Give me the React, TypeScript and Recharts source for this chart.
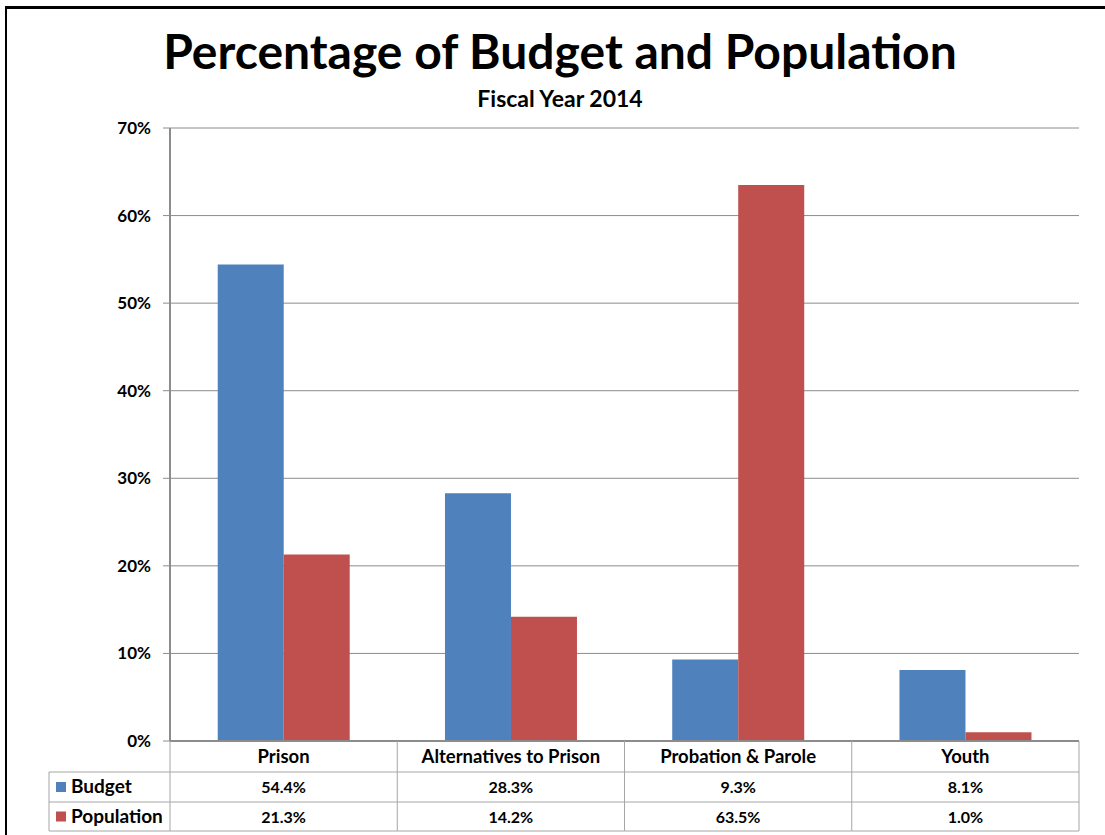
import React from 'react';
import { BarChart, Bar, XAxis, YAxis, CartesianGrid } from 'recharts';

const categories = ['Prison', 'Alternatives to Prison', 'Probation & Parole', 'Youth'];
const budget = [54.4, 28.3, 9.3, 8.1];
const population = [21.3, 14.2, 63.5, 1.0];
const yTicks = [0, 10, 20, 30, 40, 50, 60, 70];
const seriesNames = ['Budget', 'Population'];
const seriesColors = ['#4F81BD', '#C0504D'];

const data = categories.map((c, i) => ({ name: c, budget: budget[i], population: population[i] }));

const W = 1105;
const H = 835;
const PLOT_LEFT = 170;
const PLOT_RIGHT = 1079;
const PLOT_TOP = 128;
const PLOT_BOTTOM = 741;
const ROW1 = 772;
const ROW2 = 802;
const ROW3 = 831;
const LEGEND_LEFT = 49;
const FONT = 'Lato, "Open Sans", sans-serif';
const GRID = '#8c8c8c';
const TABLE = '#a6a6a6';

const seriesVals = [budget, population];

const YTick = (props: any) => {
  const { x, y, payload } = props;
  return (
    <text x={x} y={y + 6} textAnchor="end" fontFamily={FONT} fontWeight="bold" fontSize={17} fill="#000">
      {`${payload.value}%`}
    </text>
  );
};

const TableTick = (props: any) => {
  const { x, payload } = props;
  const idx = payload.index;
  const cellW = (PLOT_RIGHT - PLOT_LEFT) / categories.length;
  const left = x - cellW / 2;
  const right = x + cellW / 2;
  return (
    <g>
      <line x1={right} y1={PLOT_BOTTOM} x2={right} y2={ROW3} stroke={TABLE} strokeWidth={1} />
      <line x1={left} y1={ROW1} x2={right} y2={ROW1} stroke={TABLE} strokeWidth={1} />
      <line x1={left} y1={ROW2} x2={right} y2={ROW2} stroke={TABLE} strokeWidth={1} />
      <line x1={left} y1={ROW3} x2={right} y2={ROW3} stroke={TABLE} strokeWidth={1} />
      <text x={x} y={(PLOT_BOTTOM + ROW1) / 2 + 6} textAnchor="middle" fontFamily={FONT} fontWeight="bold" fontSize={18.5} fill="#000">
        {payload.value}
      </text>
      {seriesVals.map((vals, r) => (
        <text key={r} x={x} y={(r === 0 ? (ROW1 + ROW2) / 2 : (ROW2 + ROW3) / 2) + 6} textAnchor="middle" fontFamily={FONT} fontWeight="bold" fontSize={16} fill="#000">
          {`${vals[idx].toFixed(1)}%`}
        </text>
      ))}
      {idx === 0 && (
        <g>
          <line x1={left} y1={PLOT_BOTTOM} x2={left} y2={ROW3} stroke={TABLE} strokeWidth={1} />
          <line x1={LEGEND_LEFT} y1={ROW1} x2={left} y2={ROW1} stroke={TABLE} strokeWidth={1} />
          <line x1={LEGEND_LEFT} y1={ROW2} x2={left} y2={ROW2} stroke={TABLE} strokeWidth={1} />
          <line x1={LEGEND_LEFT} y1={ROW3} x2={left} y2={ROW3} stroke={TABLE} strokeWidth={1} />
          <line x1={LEGEND_LEFT} y1={ROW1} x2={LEGEND_LEFT} y2={ROW3} stroke={TABLE} strokeWidth={1} />
          {seriesNames.map((n, r) => {
            const cy = r === 0 ? (ROW1 + ROW2) / 2 : (ROW2 + ROW3) / 2;
            return (
              <g key={n}>
                <rect x={LEGEND_LEFT + 7} y={cy - 5} width={10} height={10} fill={seriesColors[r]} />
                <text x={LEGEND_LEFT + 22} y={cy + 6} fontFamily={FONT} fontWeight="bold" fontSize={19} fill="#000">
                  {n}
                </text>
              </g>
            );
          })}
        </g>
      )}
    </g>
  );
};

export default function App() {
  return (
    <div style={{ position: 'absolute', left: 0, top: 0, width: W, height: H, overflow: 'hidden', background: '#fff' }}>
      <div style={{ position: 'absolute', left: 5, top: 6, width: W + 50, height: H + 50, borderTop: '3px solid #000', borderLeft: '2px solid #000' }} />
      <div style={{ position: 'absolute', left: 0, top: 23, width: 1120, textAlign: 'center', fontFamily: FONT, fontWeight: 'bold', fontSize: 48, lineHeight: '56px', color: '#000' }}>
        Percentage of Budget and Population
      </div>
      <div style={{ position: 'absolute', left: 0, top: 84, width: 1120, textAlign: 'center', fontFamily: FONT, fontWeight: 'bold', fontSize: 23, lineHeight: '28px', color: '#000' }}>
        Fiscal Year 2014
      </div>
      <div style={{ position: 'absolute', left: 0, top: 0 }}>
        <BarChart
          width={W}
          height={H}
          data={data}
          margin={{ top: PLOT_TOP, right: W - PLOT_RIGHT, bottom: 0, left: 0 }}
          barCategoryGap="21%"
          barGap={0}
        >
          <CartesianGrid vertical={false} stroke={GRID} strokeWidth={1} />
          <YAxis
            width={PLOT_LEFT}
            domain={[0, 70]}
            ticks={yTicks}
            axisLine={{ stroke: GRID, strokeWidth: 2 }}
            tickLine={{ stroke: GRID }}
            tickSize={7}
            tickMargin={12}
            tick={<YTick />}
            interval={0}
          />
          <XAxis
            dataKey="name"
            height={H - PLOT_BOTTOM}
            axisLine={{ stroke: GRID, strokeWidth: 2 }}
            tickLine={false}
            tick={<TableTick />}
            interval={0}
          />
          <Bar dataKey="budget" name="Budget" fill={seriesColors[0]} isAnimationActive={false} />
          <Bar dataKey="population" name="Population" fill={seriesColors[1]} isAnimationActive={false} />
        </BarChart>
      </div>
    </div>
  );
}
